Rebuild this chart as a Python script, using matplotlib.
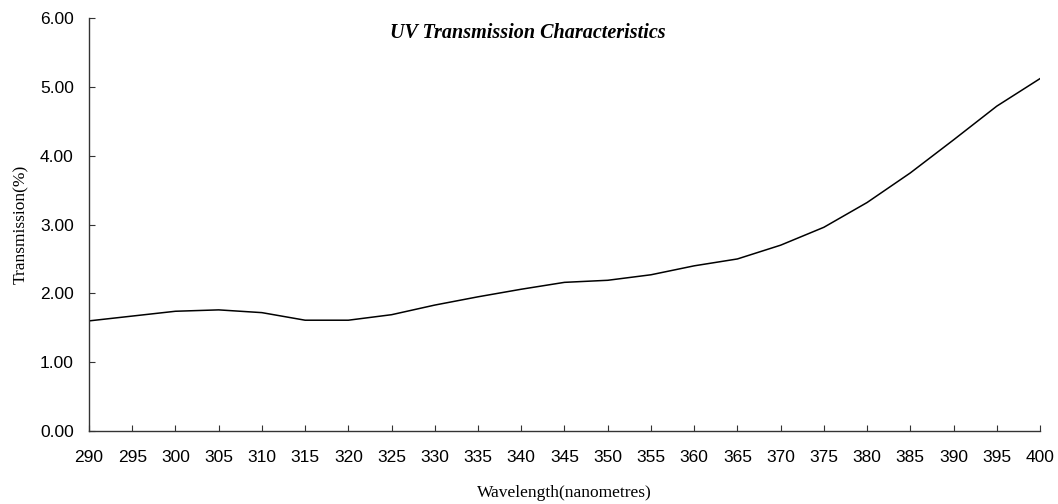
import matplotlib
matplotlib.use("Agg")
import matplotlib.pyplot as plt

wavelength = [290, 295, 300, 305, 310, 315, 320, 325, 330, 335, 340, 345, 350,
              355, 360, 365, 370, 375, 380, 385, 390, 395, 400]
transmission = [1.60, 1.67, 1.74, 1.76, 1.72, 1.61, 1.61, 1.69, 1.83, 1.95, 2.06,
                2.16, 2.19, 2.27, 2.40, 2.50, 2.70, 2.96, 3.32, 3.75, 4.23, 4.72, 5.12]
yticks = [0, 1, 2, 3, 4, 5, 6]

fig = plt.figure(figsize=(10.58, 5.04), dpi=100)
ax = fig.add_axes([0.0841, 0.1448, 0.8989, 0.8194])
ax.plot(wavelength, transmission, color="black", linewidth=1.1)

ax.set_xlim(290, 400)
ax.set_ylim(0, 6)
ax.set_xticks(wavelength)
ax.set_xticklabels([str(w) for w in wavelength])
ax.set_yticks(yticks)
ax.set_yticklabels([f"{v:.2f}" for v in yticks])

for s in ["top", "right"]:
    ax.spines[s].set_visible(False)
for s in ["left", "bottom"]:
    ax.spines[s].set_color("#333333")
    ax.spines[s].set_linewidth(1.0)

ax.tick_params(axis="both", direction="in", length=4, width=0.8, color="#333333",
               labelsize=12.5, labelcolor="black")
ax.tick_params(axis="x", pad=14)
ax.tick_params(axis="y", pad=11)
for lab in ax.get_xticklabels() + ax.get_yticklabels():
    lab.set_fontfamily("Liberation Sans")

ax.set_xlabel("Wavelength(nanometres)", fontfamily="Liberation Serif", fontsize=12.5, labelpad=14)
ax.set_ylabel("Transmission(%)", fontfamily="Liberation Serif", fontsize=12.5, labelpad=8)
fig.text(0.499, 1 - 33 / 504, "UV Transmission Characteristics",
         ha="center", va="center", fontfamily="Liberation Serif", fontsize=14.5,
         fontweight="bold", fontstyle="italic")

fig.savefig("out.png", dpi=100)
